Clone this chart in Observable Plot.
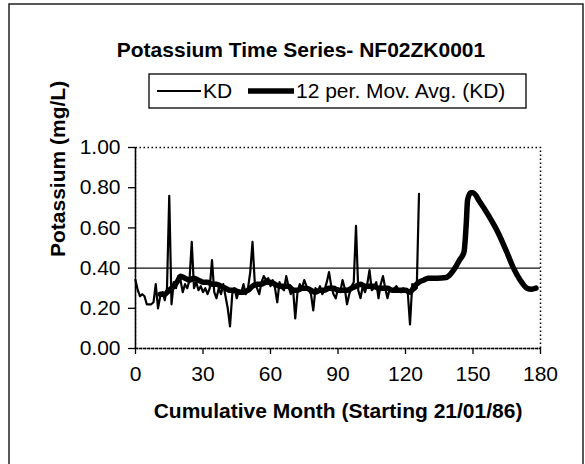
<!DOCTYPE html>
<html>
<head>
<meta charset="utf-8">
<script src="https://cdn.jsdelivr.net/npm/d3@7"></script>
<script src="https://cdn.jsdelivr.net/npm/@observablehq/plot@0.6"></script>
<style>
  body { margin: 0; background: #fff; }
  #chart svg { display: block; }
</style>
</head>
<body>
<div id="chart"></div>
<script>
// ---- Data ----
const chartTitle = "Potassium Time Series- NF02ZK0001";
const xTitle = "Cumulative Month (Starting 21/01/86)";
const yTitle = "Potassium (mg/L)";
const seriesNames = ["KD", "12 per. Mov. Avg. (KD)"];

// KD: one value per cumulative month, starting at month 0
const kdValues = [
  0.34, 0.29, 0.26, 0.27, 0.26, 0.22, 0.22, 0.22, 0.23, 0.32,
  0.20, 0.26, 0.28, 0.24, 0.30, 0.76, 0.22, 0.33, 0.30, 0.36,
  0.34, 0.28, 0.32, 0.30, 0.34, 0.53, 0.30, 0.33, 0.29, 0.31,
  0.28, 0.30, 0.27, 0.30, 0.44, 0.28, 0.25, 0.30, 0.27, 0.32,
  0.26, 0.20, 0.11, 0.27, 0.30, 0.25, 0.29, 0.28, 0.32, 0.27,
  0.30, 0.38, 0.53, 0.33, 0.30, 0.27, 0.33, 0.36, 0.34, 0.35,
  0.31, 0.34, 0.30, 0.23, 0.33, 0.30, 0.29, 0.36, 0.31, 0.27,
  0.30, 0.15, 0.28, 0.32, 0.30, 0.34, 0.31, 0.29, 0.27, 0.19,
  0.30, 0.28, 0.31, 0.27, 0.29, 0.33, 0.38, 0.31, 0.27, 0.25,
  0.30, 0.28, 0.34, 0.30, 0.22, 0.27, 0.31, 0.33, 0.61, 0.29,
  0.25, 0.31, 0.28, 0.32, 0.39, 0.29, 0.30, 0.33, 0.25, 0.32,
  0.36, 0.30, 0.25, 0.30, 0.29, 0.30, 0.31, 0.29, 0.28, 0.30,
  0.29, 0.28, 0.12, 0.32, 0.29, 0.30, 0.77
];

// 12 period moving average, as drawn
const maMonths = [
  11, 13, 15, 17, 19, 20, 22, 24, 26, 28, 30, 32, 34, 36, 38, 40, 42, 44, 46, 48,
  50, 52, 54, 56, 58, 60, 62, 64, 66, 68, 70, 72, 74, 76, 78, 80, 82, 84, 86, 88,
  90, 92, 94, 96, 98, 100, 102, 104, 106, 108, 110, 112, 114, 116, 118, 120, 122, 124, 126, 128,
  130, 134, 138, 140, 142, 144, 146, 147, 147.6, 149, 150, 153, 157, 161, 165, 168, 171, 174, 176, 178
];
const maValues = [
  0.27, 0.27, 0.29, 0.31, 0.34, 0.36, 0.35, 0.34, 0.35, 0.34, 0.33, 0.33, 0.32, 0.32, 0.31, 0.30, 0.29, 0.29, 0.28, 0.28,
  0.29, 0.31, 0.32, 0.32, 0.33, 0.33, 0.32, 0.31, 0.31, 0.31, 0.29, 0.29, 0.30, 0.30, 0.29, 0.28, 0.29, 0.29, 0.30, 0.30,
  0.29, 0.29, 0.29, 0.30, 0.31, 0.32, 0.31, 0.31, 0.31, 0.30, 0.30, 0.30, 0.29, 0.29, 0.29, 0.29, 0.28, 0.31, 0.33, 0.34,
  0.35, 0.35, 0.353, 0.37, 0.40, 0.44, 0.48, 0.62, 0.74, 0.775, 0.775, 0.73, 0.66, 0.58, 0.48, 0.40, 0.34, 0.30, 0.295, 0.30
];

const xTicks = [0, 30, 60, 90, 120, 150, 180];
const yTicks = [0, 0.2, 0.4, 0.6, 0.8, 1.0];
const referenceLevel = [0.40];

// ---- Build tables ----
const kd = kdValues.map((value, month) => ({month, value}));
const ma = maMonths.map((month, i) => ({month, value: maValues[i]}));

const FONT = "'Liberation Sans', Arial, Helvetica, sans-serif";

const chart = Plot.plot({
  width: 585,
  height: 464,
  marginLeft: 135,
  marginRight: 45,
  marginTop: 147,
  marginBottom: 116,
  style: {fontFamily: FONT, fontSize: "21px", color: "#000", background: "#fff"},
  x: {domain: [0, 180], ticks: xTicks, label: null},
  y: {domain: [0, 1], ticks: yTicks, label: null},
  marks: [
    Plot.frame({stroke: "#000", strokeWidth: 1.5, strokeDasharray: "1.5,2.5"}),
    Plot.ruleY(referenceLevel, {stroke: "#111", strokeWidth: 1.4}),
    Plot.line(kd, {x: "month", y: "value", stroke: "#000", strokeWidth: 2.2, strokeLinejoin: "round"}),
    Plot.line(ma, {x: "month", y: "value", stroke: "#000", strokeWidth: 5.5, curve: "monotone-x", strokeLinejoin: "round"}),
    Plot.ruleX([0], {stroke: "#000", strokeWidth: 1.6, strokeDasharray: "3,1"}),
    Plot.ruleY([0], {stroke: "#000", strokeWidth: 1.6, strokeDasharray: "3,1"}),
    Plot.axisX({ticks: xTicks, tickSize: 6, tickPadding: 12, tickFormat: d => String(d), label: null, strokeWidth: 1.3}),
    Plot.axisY({ticks: yTicks, tickSize: 7, tickPadding: 8, tickFormat: d => d.toFixed(2), label: null, strokeWidth: 1.3}),
    Plot.text([yTitle], {frameAnchor: "left", rotate: -90, dx: -77, dy: 9, fontWeight: "bold", fontSize: 21}),
    Plot.text([xTitle], {frameAnchor: "bottom", dy: 69, fontWeight: "bold", fontSize: 21}),
    Plot.text([chartTitle], {frameAnchor: "top", dy: -105, dx: -37, fontWeight: "bold", fontSize: 21})
  ]
});

document.getElementById("chart").appendChild(chart);

// ---- Outer chart-area border and legend box ----
const svg = d3.select(chart);
svg.insert("rect", ":first-child")
  .attr("x", 9).attr("y", 4).attr("width", 574).attr("height", 470)
  .attr("fill", "#fff").attr("stroke", "#222").attr("stroke-width", 1.5);

const lg = svg.append("g")
  .attr("font-family", FONT).attr("font-size", 21).attr("text-anchor", "start");
lg.append("rect").attr("x", 149).attr("y", 74).attr("width", 377).attr("height", 34)
  .attr("fill", "#fff").attr("stroke", "#000").attr("stroke-width", 1.3);
const legendItems = [
  {name: seriesNames[0], x1: 157, x2: 201, width: 2.2},
  {name: seriesNames[1], x1: 248, x2: 294, width: 5.5}
];
for (const it of legendItems) {
  lg.append("line").attr("x1", it.x1).attr("x2", it.x2).attr("y1", 91).attr("y2", 91)
    .attr("stroke", "#000").attr("stroke-width", it.width);
  lg.append("text").attr("x", it.x2 + 2).attr("y", 91).attr("dy", "0.35em")
    .attr("text-anchor", "start").text(it.name);
}
</script>
</body>
</html>
